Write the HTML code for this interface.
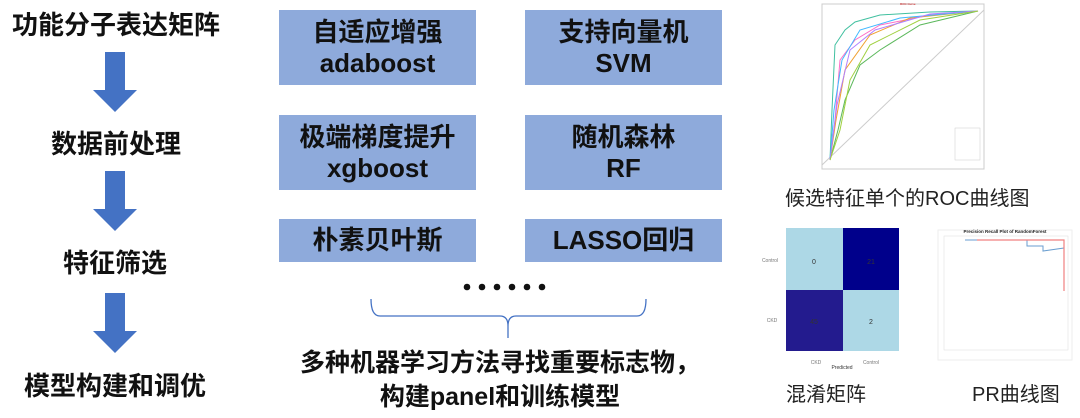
<!DOCTYPE html>
<html><head><meta charset="utf-8"><style>
body{margin:0;width:1080px;height:418px;background:#fff;position:relative;overflow:hidden;font-family:"Liberation Sans","Noto Sans CJK SC",sans-serif;}
.t{position:absolute;font-weight:bold;color:#111;white-space:nowrap;text-align:center;}
.box{position:absolute;background:#8eaadb;display:flex;align-items:center;justify-content:center;text-align:center;font-weight:bold;font-size:26px;line-height:31px;color:#111;}
.c{position:absolute;font-size:18px;color:#222;white-space:nowrap;}
</style></head><body>
<div class="t" style="left:0;width:232px;top:5px;font-size:26px;">功能分子表达矩阵</div>
<div class="t" style="left:0;width:232px;top:124px;font-size:26px;">数据前处理</div>
<div class="t" style="left:0;width:230px;top:243px;font-size:26px;">特征筛选</div>
<div class="t" style="left:0;width:230px;top:366px;font-size:26px;">模型构建和调优</div>
<svg width="230" height="418" style="position:absolute;left:0;top:0">
<g fill="#4472c4">
<polygon points="105,52 125,52 125,90 137,90 115,112 93,90 105,90"/>
<polygon points="105,171 125,171 125,209 137,209 115,231 93,209 105,209"/>
<polygon points="105,293 125,293 125,331 137,331 115,353 93,331 105,331"/>
</g></svg>
<div class="box" style="left:279px;top:10px;width:197px;height:75px;">自适应增强<br>adaboost</div>
<div class="box" style="left:525px;top:10px;width:197px;height:75px;">支持向量机<br>SVM</div>
<div class="box" style="left:279px;top:115px;width:197px;height:75px;">极端梯度提升<br>xgboost</div>
<div class="box" style="left:525px;top:115px;width:197px;height:75px;">随机森林<br>RF</div>
<div class="box" style="left:279px;top:219px;width:197px;height:43px;">朴素贝叶斯</div>
<div class="box" style="left:525px;top:219px;width:197px;height:43px;">LASSO回归</div>
<svg width="1080" height="418" style="position:absolute;left:0;top:0">
<g fill="#111"><circle cx="467" cy="287" r="3.3"/><circle cx="482" cy="287" r="3.3"/><circle cx="497" cy="287" r="3.3"/><circle cx="512" cy="287" r="3.3"/><circle cx="527" cy="287" r="3.3"/><circle cx="542" cy="287" r="3.3"/></g>
<path d="M371,299 Q371,316 380,316 L500,316 Q508,316 508,326 L508,338 M508,326 Q508,316 516,316 L637,316 Q646,316 646,299" fill="none" stroke="#4472c4" stroke-width="1.3"/>
<rect x="822" y="4" width="162" height="165" fill="#fff" stroke="#ccc"/>
<line x1="822" y1="165" x2="984" y2="10" stroke="#ccc"/>
<text x="900" y="5" font-size="3" fill="#c00">ROC Curve</text>
<g fill="none" stroke-width="1">
<polyline points="830,160 832,110 835,45 845,30 855,22 880,15 930,12 978,11" stroke="#41c0a0"/>
<polyline points="830,160 835,120 840,60 855,40 880,25 930,15 978,11" stroke="#ff6ec7"/>
<polyline points="830,160 838,130 845,100 860,65 880,50 920,25 978,11" stroke="#5cb85c"/>
<polyline points="830,160 836,120 845,70 870,35 910,18 978,11" stroke="#f0a030"/>
<polyline points="830,160 834,110 842,60 860,30 900,18 978,11" stroke="#40b8ff"/>
<polyline points="830,160 837,105 850,50 875,30 930,14 978,11" stroke="#b080ff"/>
<polyline points="830,160 840,130 850,80 870,45 920,20 978,11" stroke="#a0d040"/>
</g>
<g fill="#fff" stroke="#ccc" stroke-width=".5"><rect x="955" y="128" width="25" height="32"/></g>
<rect x="786" y="228" width="57" height="62" fill="#add8e6"/>
<rect x="843" y="228" width="56" height="62" fill="#00008b"/>
<rect x="786" y="290" width="57" height="61" fill="#231b8e"/>
<rect x="843" y="290" width="56" height="61" fill="#add8e6"/>
<g font-size="7" font-family="Liberation Sans" fill="#333" text-anchor="middle">
<text x="814" y="264">0</text><text x="871" y="264">21</text><text x="814" y="324">45</text><text x="871" y="324">2</text>
<text x="770" y="262" fill="#777" font-size="5">Control</text><text x="772" y="322" fill="#777" font-size="5">CKD</text>
<text x="816" y="364" fill="#777" font-size="5">CKD</text><text x="871" y="364" fill="#777" font-size="5">Control</text>
<text x="842" y="369" font-size="5">Predicted</text>
</g>
<rect x="938" y="230" width="134" height="130" fill="#fff" stroke="#eee"/>
<text x="1005" y="233" font-size="4.5" text-anchor="middle" font-weight="bold" fill="#222">Precision Recall Plot of RandomForest</text>
<rect x="944" y="236" width="124" height="114" fill="none" stroke="#ddd" stroke-width=".5"/>
<polyline points="965,240 1027,240 1027,246 1043,246 1043,251 1064,248" fill="none" stroke="#6a9ed0" stroke-width="1"/>
<polyline points="977,240 1064,240 1064,291" fill="none" stroke="#f08080" stroke-width="1.2"/>
</svg>
<div class="c" style="left:785px;top:182px;font-size:20px;">候选特征单个的ROC曲线图</div>
<div class="c" style="left:786px;top:378px;font-size:20px;">混淆矩阵</div>
<div class="c" style="left:972px;top:378px;font-size:20px;">PR曲线图</div>
<div class="t" style="left:260px;width:480px;top:346px;font-size:25px;line-height:34px;">多种机器学习方法寻找重要标志物，<br>构建panel和训练模型</div>
</body></html>
